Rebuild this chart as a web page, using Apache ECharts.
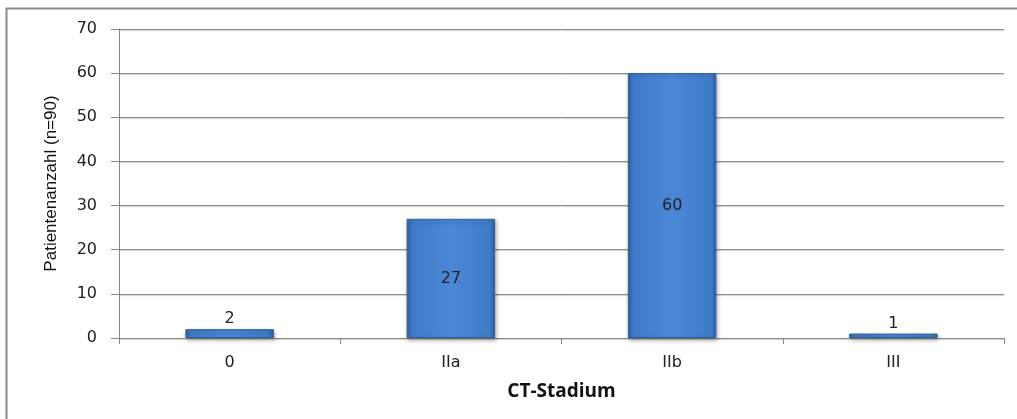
<!DOCTYPE html>
<html>
<head>
<meta charset="utf-8">
<script src="https://cdn.jsdelivr.net/npm/echarts@6/dist/echarts.min.js"></script>
<style>
html,body{margin:0;padding:0;background:#fff;}
#c{width:1017px;height:419px;}
</style>
</head>
<body>
<div id="c"></div>
<script>
var categories = ['0', 'IIa', 'IIb', 'III'];
var values = [2, 27, 60, 1];
var labelPositions = ['top', 'inside', 'inside', 'top'];
var yName = 'Patientenanzahl (n=90)';
var xName = 'CT-Stadium';

var chart = echarts.init(document.getElementById('c'), null, {renderer: 'canvas'});
var barGrad = new echarts.graphic.LinearGradient(0, 0, 1, 0, [
  {offset: 0, color: '#33629f'},
  {offset: 0.06, color: '#407bc8'},
  {offset: 0.5, color: '#4a88d7'},
  {offset: 0.94, color: '#407bc8'},
  {offset: 1, color: '#33629f'}
]);
chart.setOption({
  animation: false,
  backgroundColor: '#fff',
  graphic: [{
    type: 'rect',
    shape: {x: 6.5, y: 8.5, width: 1100, height: 500},
    style: {fill: 'none', stroke: '#8a8a8a', lineWidth: 2}
  }],
  grid: {left: 119, right: 13, top: 29, bottom: 81},
  xAxis: {
    type: 'category',
    data: categories,
    name: xName,
    nameLocation: 'middle',
    nameGap: 44,
    nameTextStyle: {fontFamily: 'Open Sans', fontWeight: 'bold', fontSize: 19, color: '#111'},
    axisLine: {lineStyle: {color: '#888'}},
    axisTick: {show: true, length: 6, lineStyle: {color: '#888'}},
    axisLabel: {fontFamily: 'DejaVu Sans', fontSize: 16, color: '#222', margin: 17}
  },
  yAxis: {
    type: 'value',
    min: 0, max: 70, interval: 10,
    name: yName,
    nameLocation: 'middle',
    nameGap: 59,
    nameTextStyle: {fontFamily: 'Liberation Sans', fontSize: 17, color: '#111'},
    axisLine: {show: true, lineStyle: {color: '#888'}},
    axisTick: {show: true, length: 8, lineStyle: {color: '#888'}},
    axisLabel: {fontFamily: 'DejaVu Sans', fontSize: 16, color: '#222', margin: 22},
    splitLine: {lineStyle: {color: '#8f8f8f', width: 1, shadowColor: 'rgba(0,0,0,0.2)', shadowOffsetY: 1, shadowBlur: 1}}
  },
  series: [{
    type: 'bar',
    barCategoryGap: '60%',
    data: values.map(function (v, i) {
      return {value: v, label: {position: labelPositions[i]}};
    }),
    itemStyle: {
      color: barGrad,
      borderColor: '#30609c',
      borderWidth: 1,
      shadowColor: 'rgba(0,0,0,0.3)',
      shadowBlur: 4,
      shadowOffsetX: 1,
      shadowOffsetY: 2
    },
    label: {
      show: true,
      fontFamily: 'DejaVu Sans',
      fontSize: 16,
      color: '#222',
      distance: 2
    }
  }]
});
</script>
</body>
</html>
